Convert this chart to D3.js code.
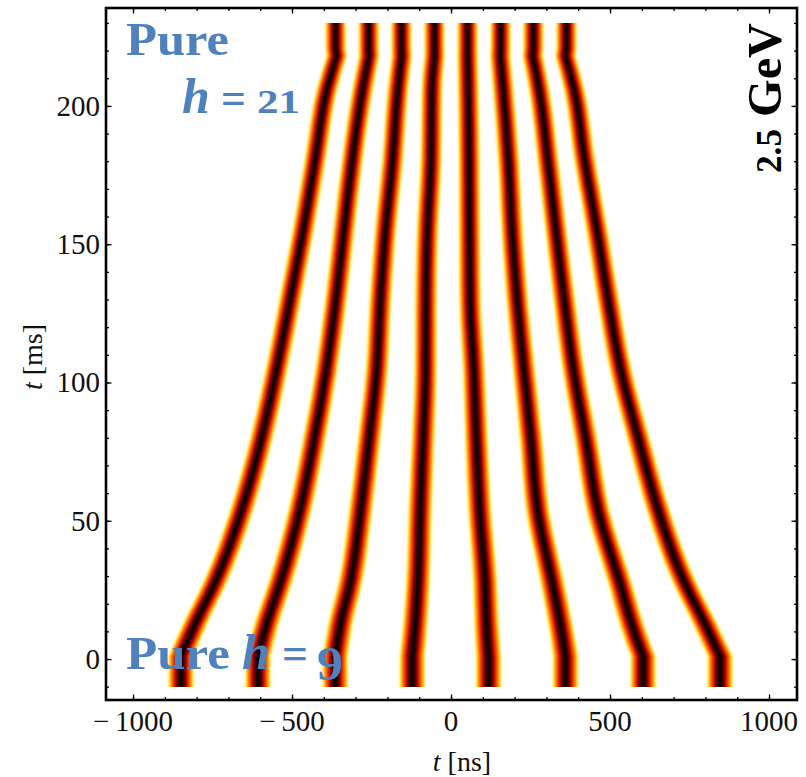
<!DOCTYPE html>
<html><head><meta charset="utf-8">
<script src="https://cdn.jsdelivr.net/npm/d3@7"></script>
<style>body{margin:0;background:#fff}svg{display:block}</style>
</head><body>
<svg id="chart" width="806" height="777"></svg>
<script>
// ---- data ----
const timesMs = [-10, 1, 12, 28, 54, 79, 104, 130, 155, 180, 206, 218, 221, 230];
const bunch1 = [-849, -849, -808, -741, -658, -598, -550, -506, -465, -428, -390, -360, -363, -363];
const bunch2 = [-607, -607, -582, -536, -475, -431, -393, -362, -337, -311, -278, -258, -259, -259];
const bunch3 = [-364, -364, -349, -316, -284, -258, -234, -222, -206, -184, -167, -155, -156, -156];
const bunch4 = [-122, -122, -113, -104, -97, -88, -80, -79, -74, -63, -60, -52, -52, -52];
const bunch5 = [118, 118, 112, 107, 90, 80, 72, 60, 58, 57, 54, 52, 52, 52];
const bunch6 = [360, 360, 345, 318, 272, 252, 230, 208, 192, 181, 164, 155, 156, 156];
const bunch7 = [604, 604, 570, 530, 462, 425, 386, 356, 330, 305, 277, 257, 259, 259];
const bunch8 = [846, 846, 802, 733, 651, 591, 535, 494, 459, 421, 387, 360, 363, 363];
const bunchLengthNs = [82, 82, 80, 78, 76, 74, 72, 71, 70, 69, 68, 67, 66, 66];
const bunches = [bunch1, bunch2, bunch3, bunch4, bunch5, bunch6, bunch7, bunch8];
// pieces of each trajectory between the RF switches (index ranges)
const segments = [[0, 1, "linear"], [1, 11, "smooth"], [11, 13, "linear"]];

const xMajorTicks = [-1000, -500, 0, 500, 1000];
const yMajorTicks = [0, 50, 100, 150, 200];
const xMinorTicks = d3.range(-1000, 1001, 100);
const yMinorTicks = d3.range(-10, 231, 10);

// ---- layout ----
const svg = d3.select("#chart");
const P = {l: 106, r: 797, t: 8, b: 700};
const x = d3.scaleLinear().domain([-1085, 1088]).range([P.l, P.r]);
const y = d3.scaleLinear().domain([-14.8, 235.4]).range([P.b, P.t]);

// heat colour map over normalised distance from bunch centre (0 = centre, 1 = edge)
const heat = d3.scaleLinear()
  .domain([0, 0.18, 0.32, 0.48, 0.64, 0.78, 0.9, 0.97, 1.0])
  .range(["#000000", "#1e0000", "#780000", "#d40c00", "#ff4800", "#ff9a00", "#ffe200", "#ffff80", "#ffffff"])
  .clamp(true);

const defs = svg.append("defs");
defs.append("filter").attr("id", "hblur")
  .attr("x", "-5%").attr("y", "0%").attr("width", "110%").attr("height", "100%")
  .append("feGaussianBlur").attr("stdDeviation", "0.9 0");

const nLev = 26;
const levels = d3.range(nLev).map(i => 1 - i / nLev);
const step = 1 / nLev;

const gB = svg.append("g").attr("filter", "url(#hblur)");
bunches.forEach(b => {
  const pts = timesMs.map((t, i) => ({t, c: b[i], L: bunchLengthNs[i]}));
  levels.forEach(u => {
    const d = segments.map(([i0, i1, kind]) => {
      const area = d3.area()
        .y(p => y(p.t))
        .x0(p => x(p.c - u * p.L / 2))
        .x1(p => x(p.c + u * p.L / 2))
        .curve(kind === "smooth" ? d3.curveMonotoneY : d3.curveLinear);
      return area(pts.slice(i0, i1 + 1));
    }).join("");
    gB.append("path").attr("d", d).attr("fill", heat(u - step / 2));
  });
});

// ---- ticks (inward on all four sides) ----
function tickAxis(gen, scale, vals, size, tr) {
  const a = gen(scale).tickValues(vals).tickSize(size).tickFormat("");
  const g = svg.append("g").attr("transform", tr).call(a);
  g.select(".domain").remove();
  g.selectAll(".tick line").attr("stroke", "#000").attr("stroke-width", 1.3);
}
tickAxis(d3.axisBottom, x, xMinorTicks, -3, `translate(0,${P.b})`);
tickAxis(d3.axisBottom, x, xMajorTicks, -5.5, `translate(0,${P.b})`);
tickAxis(d3.axisTop, x, xMinorTicks, -3, `translate(0,${P.t})`);
tickAxis(d3.axisTop, x, xMajorTicks, -5.5, `translate(0,${P.t})`);
tickAxis(d3.axisLeft, y, yMinorTicks, -3, `translate(${P.l},0)`);
tickAxis(d3.axisLeft, y, yMajorTicks, -5.5, `translate(${P.l},0)`);
tickAxis(d3.axisRight, y, yMinorTicks, -3, `translate(${P.r},0)`);
tickAxis(d3.axisRight, y, yMajorTicks, -5.5, `translate(${P.r},0)`);

// frame
svg.append("rect").attr("x", P.l).attr("y", P.t)
  .attr("width", P.r - P.l).attr("height", P.b - P.t)
  .attr("fill", "none").attr("stroke", "#000").attr("stroke-width", 2.6);

// tick labels
const serif = "'Liberation Serif', 'Times New Roman', serif";
svg.append("g").selectAll("text").data(xMajorTicks).join("text")
  .attr("x", d => x(d)).attr("y", P.b + 31)
  .attr("text-anchor", "middle")
  .style("font-family", serif).style("font-size", "29px").attr("fill", "#111")
  .text(d => d < 0 ? "\u2212\u2009" + Math.abs(d) : String(d));
svg.append("g").selectAll("text").data(yMajorTicks).join("text")
  .attr("x", P.l - 6).attr("y", d => y(d) + 10)
  .attr("text-anchor", "end")
  .style("font-family", serif).style("font-size", "29px").attr("fill", "#111")
  .text(d => String(d));

// axis titles
const xt = svg.append("text").attr("x", 462).attr("y", 771).attr("text-anchor", "middle")
  .style("font-family", serif).style("font-size", "28px").attr("fill", "#111");
xt.append("tspan").style("font-style", "italic").text("t");
xt.append("tspan").text(" [ns]");
const yt = svg.append("text").attr("transform", "translate(42,357) rotate(-90)").attr("text-anchor", "middle")
  .style("font-family", serif).style("font-size", "28px").attr("fill", "#111");
yt.append("tspan").style("font-style", "italic").text("t");
yt.append("tspan").text(" [ms]");

// annotations
const blue = "#4f81bd";
function ann(txt, px, py, size, opts = {}) {
  const t = svg.append("text").attr("x", px).attr("y", py)
    .style("font-family", serif).style("font-weight", "bold")
    .style("font-size", size + "px").attr("fill", opts.fill || blue)
    .style("font-style", opts.italic ? "italic" : "normal").text(txt);
  if (opts.len) t.attr("textLength", opts.len).attr("lengthAdjust", "spacingAndGlyphs");
  return t;
}
ann("Pure", 126, 55, 46, {len: 103});
ann("h", 182, 113, 50, {italic: true});
ann("=", 221, 113, 44, {len: 25});
ann("21", 257, 113, 33, {len: 43});

ann("Pure", 126, 669, 47, {len: 104});
ann("h", 242, 669, 50, {italic: true});
ann("=", 282, 669, 46, {len: 26});
ann("9", 317, 680, 48, {len: 26});

const gev = svg.append("text").attr("transform", "translate(781,173) rotate(-90)")
  .style("font-family", serif).style("font-weight", "bold").attr("fill", "#000")
  .attr("textLength", 150).attr("lengthAdjust", "spacingAndGlyphs");
gev.append("tspan").style("font-size", "35px").text("2.5");
gev.append("tspan").style("font-size", "48px").text(" GeV");
</script>
</body></html>
